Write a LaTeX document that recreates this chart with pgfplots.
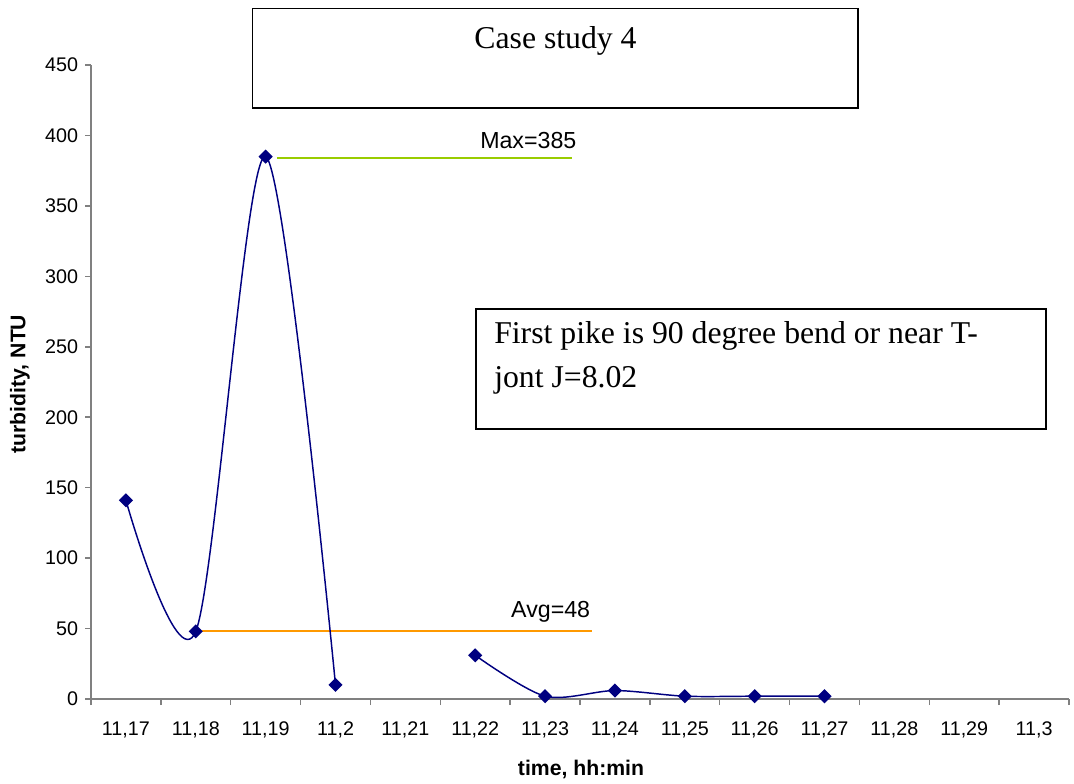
\documentclass[border=0pt]{standalone}
\usepackage{pgfplots}
\pgfplotsset{compat=1.18}
\usepackage{fontspec}
\setmainfont{Liberation Sans}
\newfontfamily\timesfont{Liberation Serif}
\definecolor{navy}{RGB}{0,0,128}
\definecolor{maxgreen}{RGB}{153,204,0}
\definecolor{avgorange}{RGB}{255,153,0}
\definecolor{axisgray}{RGB}{128,128,128}
\begin{document}
\begin{tikzpicture}
\begin{axis}[
  at={(0,0)}, anchor=south west,
  scale only axis, width=733.5pt, height=475.5pt,
  xmin=-0.5, xmax=13.5, ymin=0, ymax=450,
  axis x line=bottom, axis y line=left,
  axis line style={axisgray, line width=1.1pt, -},
  clip=false,
  xtick={-0.5,0.5,...,13.5},
  xticklabels={{11,17},{11,18},{11,19},{11,2},{11,21},{11,22},{11,23},{11,24},{11,25},{11,26},{11,27},{11,28},{11,29},{11,3},{}},
  ytick={0,50,...,450},
  tick align=outside,
  major tick length=4.5pt,
  tick style={axisgray, line width=1.1pt},
  /pgf/number format/assume math mode=true,
  ticklabel style={font=\fontsize{14.8}{17}\selectfont, text=black},
  xticklabel style={anchor=base, inner sep=0pt, xshift=26.2pt, yshift=-23pt},
  yticklabel style={anchor=east, inner sep=0pt, xshift=-5pt},
]
\addplot[draw=avgorange, line width=1.5pt] coordinates {(1.09,48) (6.67,48)};
\addplot[draw=maxgreen, line width=1.5pt] coordinates {(2.16,384) (6.385,384)};
\addplot[navy, line width=1.1pt, smooth, tension=0.5, mark=square*, mark size=3.2pt,
  mark options={rotate=45, solid, fill=navy}] coordinates {(0,141) (1,48) (2,385) (3,10)};
\addplot[navy, line width=1.1pt, smooth, tension=0.5, mark=square*, mark size=3.2pt,
  mark options={rotate=45, solid, fill=navy}] coordinates {(5,31) (6,2) (7,6) (8,2) (9,2) (10,2)};
\node[anchor=base, inner sep=0pt, font=\fontsize{17.4}{20}\selectfont] at (axis cs:5.76,391) {Max=385};
\node[anchor=base, inner sep=0pt, font=\fontsize{17.4}{20}\selectfont] at (axis cs:6.08,57.5) {Avg=48};
\end{axis}
\begin{scope}[shift={(-68.25pt,524.25pt)}, x=0.75pt, y=-0.75pt]
\draw[line width=1.1pt] (252.7,8.3) rectangle (858,108);
\node[anchor=base, inner sep=0pt, font=\timesfont\fontsize{23.8}{28}\selectfont] at (555.5,49) {Case study 4};
\draw[line width=1.1pt] (476,309) rectangle (1046,429);
\node[anchor=base west, inner sep=0pt, font=\timesfont\fontsize{23.8}{28}\selectfont] at (494,343) {First pike is 90 degree bend or near T-};
\node[anchor=base west, inner sep=0pt, font=\timesfont\fontsize{23.8}{28}\selectfont] at (494,387) {jont J=8.02};
\node[rotate=90, inner sep=0pt, font=\bfseries\fontsize{15.9}{18}\selectfont] at (20,384) {turbidity, NTU};
\node[inner sep=0pt, font=\bfseries\fontsize{15.9}{18}\selectfont] at (581,769) {time, hh:min};
\end{scope}
\pgfresetboundingbox
\begin{scope}[shift={(-68.25pt,524.25pt)}, x=0.75pt, y=-0.75pt]
\path[use as bounding box] (0,0) rectangle (1074,783);
\end{scope}
\end{tikzpicture}
\end{document}
